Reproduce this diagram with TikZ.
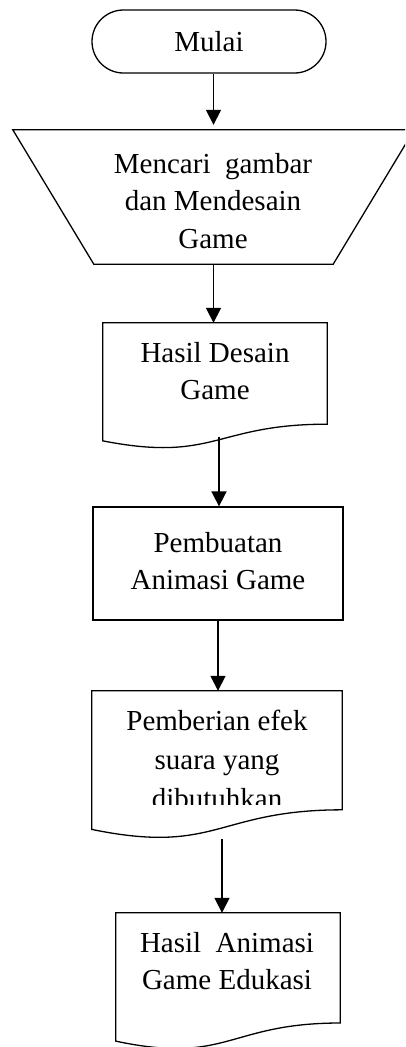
\documentclass[tikz,border=0pt]{standalone}
\usepackage{fontspec}
\setmainfont{Liberation Serif}
\usetikzlibrary{arrows.meta,calc}
\newcommand\drawdoc[1]{%
  \draw[box] (#1.north west) -- (#1.north east)
    -- ($(#1.north east)!0.802!(#1.south east)$)
    .. controls ($(#1.north)!0.802!(#1.south)$) and ($(#1.north)!1.1075!(#1.south)$)
    .. ($(#1.north west)!0.934!(#1.south west)$) -- cycle;}
\begin{document}
\begin{tikzpicture}[x=1pt,y=1pt,
  box/.style={line width=1.3pt},
  arr/.style={line width=1.7pt,-{Triangle[width=15pt,length=15pt]}},
  txt/.style={font=\fontsize{29}{37.5}\selectfont},
  lbl/.style={txt,anchor=north,inner sep=0pt,align=center},
  frame/.style={inner sep=0pt}]
\clip (0,0) rectangle (405,-1047);
% terminal
\node[draw,box,txt,frame,minimum width=234pt,minimum height=63pt,rounded corners=31.5pt] (start) at (209,-41.5) {Mulai};
% manual input / trapezoid
\node[frame,minimum width=239pt,minimum height=134pt] (io) at (213.5,-197) {};
\draw[box] ($(io.north west)+(-81,0)$) -- ($(io.north east)+(81,0)$) -- (io.south east) -- (io.south west) -- cycle;
\node[lbl] (tio) at (213,-153) {Mencari~ gambar\\dan Mendesain\\Game};
% document 1
\node[frame,minimum width=224pt,minimum height=126pt] (d1) at (215,-386) {};
\drawdoc{d1}
\node[lbl] (td1) at (215,-342) {Hasil Desain\\Game};
% process
\node[draw,box,frame,minimum width=250pt,minimum height=113pt] (proc) at (218,-563.5) {};
\node[lbl] (tproc) at (218,-532) {Pembuatan\\Animasi Game};
% document 2
\node[frame,minimum width=250pt,minimum height=148pt] (d2) at (217,-765) {};
\drawdoc{d2}
\begin{scope}
\clip (92,-691) rectangle (342,-804);
\node[lbl,font=\fontsize{29}{39}\selectfont] (td2) at (217,-710) {Pemberian efek\\suara yang\\dibutuhkan};
\end{scope}
% document 3
\node[frame,minimum width=224pt,minimum height=137pt] (d3) at (228,-981.5) {};
\drawdoc{d3}
\node[lbl] (td3) at (227,-932) {Hasil~ Animasi\\Game Edukasi};
% connectors
\draw[arr] (start.south -| io.north) -- ($(io.north)+(0,5)$);
\draw[arr] (io.south) -- (io.south |- d1.north);
\draw[arr] ($(d1.south)+(4,12)$) -- ($(proc.north)+(1,0)$);
\draw[arr] (proc.south) -- (proc.south |- d2.north);
\draw[arr] ($(d2.south)+(5,0)$) -- ($(d3.north)+(-6,0)$);
\end{tikzpicture}
\end{document}
